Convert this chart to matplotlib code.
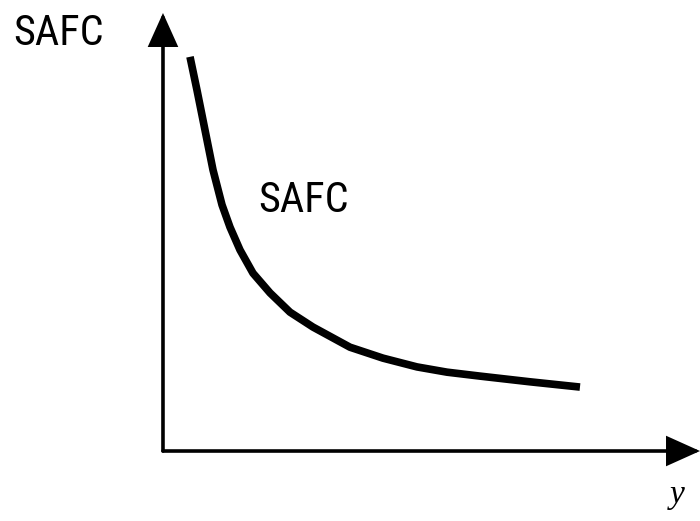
import matplotlib
matplotlib.use("Agg")
import matplotlib.pyplot as plt

# Output quantity (y) and short-run average fixed cost
quantity = [5.03, 6.33, 7.82, 9.31, 10.99, 12.48, 14.34, 16.76, 19.93, 23.65,
            27.93, 34.82, 40.97, 47.30, 52.89, 59.03, 68.34, 77.65]
safc = [90.0, 82.4, 73.3, 64.2, 56.2, 51.1, 45.9, 40.6, 36.1, 31.7,
        28.3, 23.7, 21.2, 19.2, 18.0, 17.1, 15.8, 14.6]

axis_end_x = 100
axis_end_y = 100
y_axis_label = "SAFC"
curve_label = "SAFC"
x_axis_label = "y"

sans = ["Roboto Condensed", "Archivo Narrow", "Liberation Sans"]

fig = plt.figure(figsize=(7.0, 5.21), dpi=100)
ax = fig.add_axes([0, 0, 1, 1])
ax.set_xlim(-30.35, 100)
ax.set_ylim(-15.98, 102.97)
ax.axis("off")

arrow_kw = dict(arrowstyle="-|>,head_length=1.0,head_width=0.45",
                color="black", lw=2.6, mutation_scale=20,
                shrinkA=0, shrinkB=0, joinstyle="miter")
ax.annotate("", xy=(axis_end_x, 0), xytext=(0, 0), arrowprops=arrow_kw)
ax.annotate("", xy=(0, axis_end_y), xytext=(0, 0), arrowprops=arrow_kw)

ax.plot(quantity, safc, color="black", lw=5.5,
        solid_capstyle="butt", solid_joinstyle="round")

ax.text(-27.93, 92.7, y_axis_label, family=sans, fontsize=30.4,
        ha="left", va="baseline")
ax.text(17.69, 54.57, curve_label, family=sans, fontsize=30.4,
        ha="left", va="baseline")
ax.text(94.4, -11.87, x_axis_label, family="Liberation Serif", style="italic",
        fontsize=24, ha="left", va="baseline")

fig.savefig("out.png", dpi=100)
